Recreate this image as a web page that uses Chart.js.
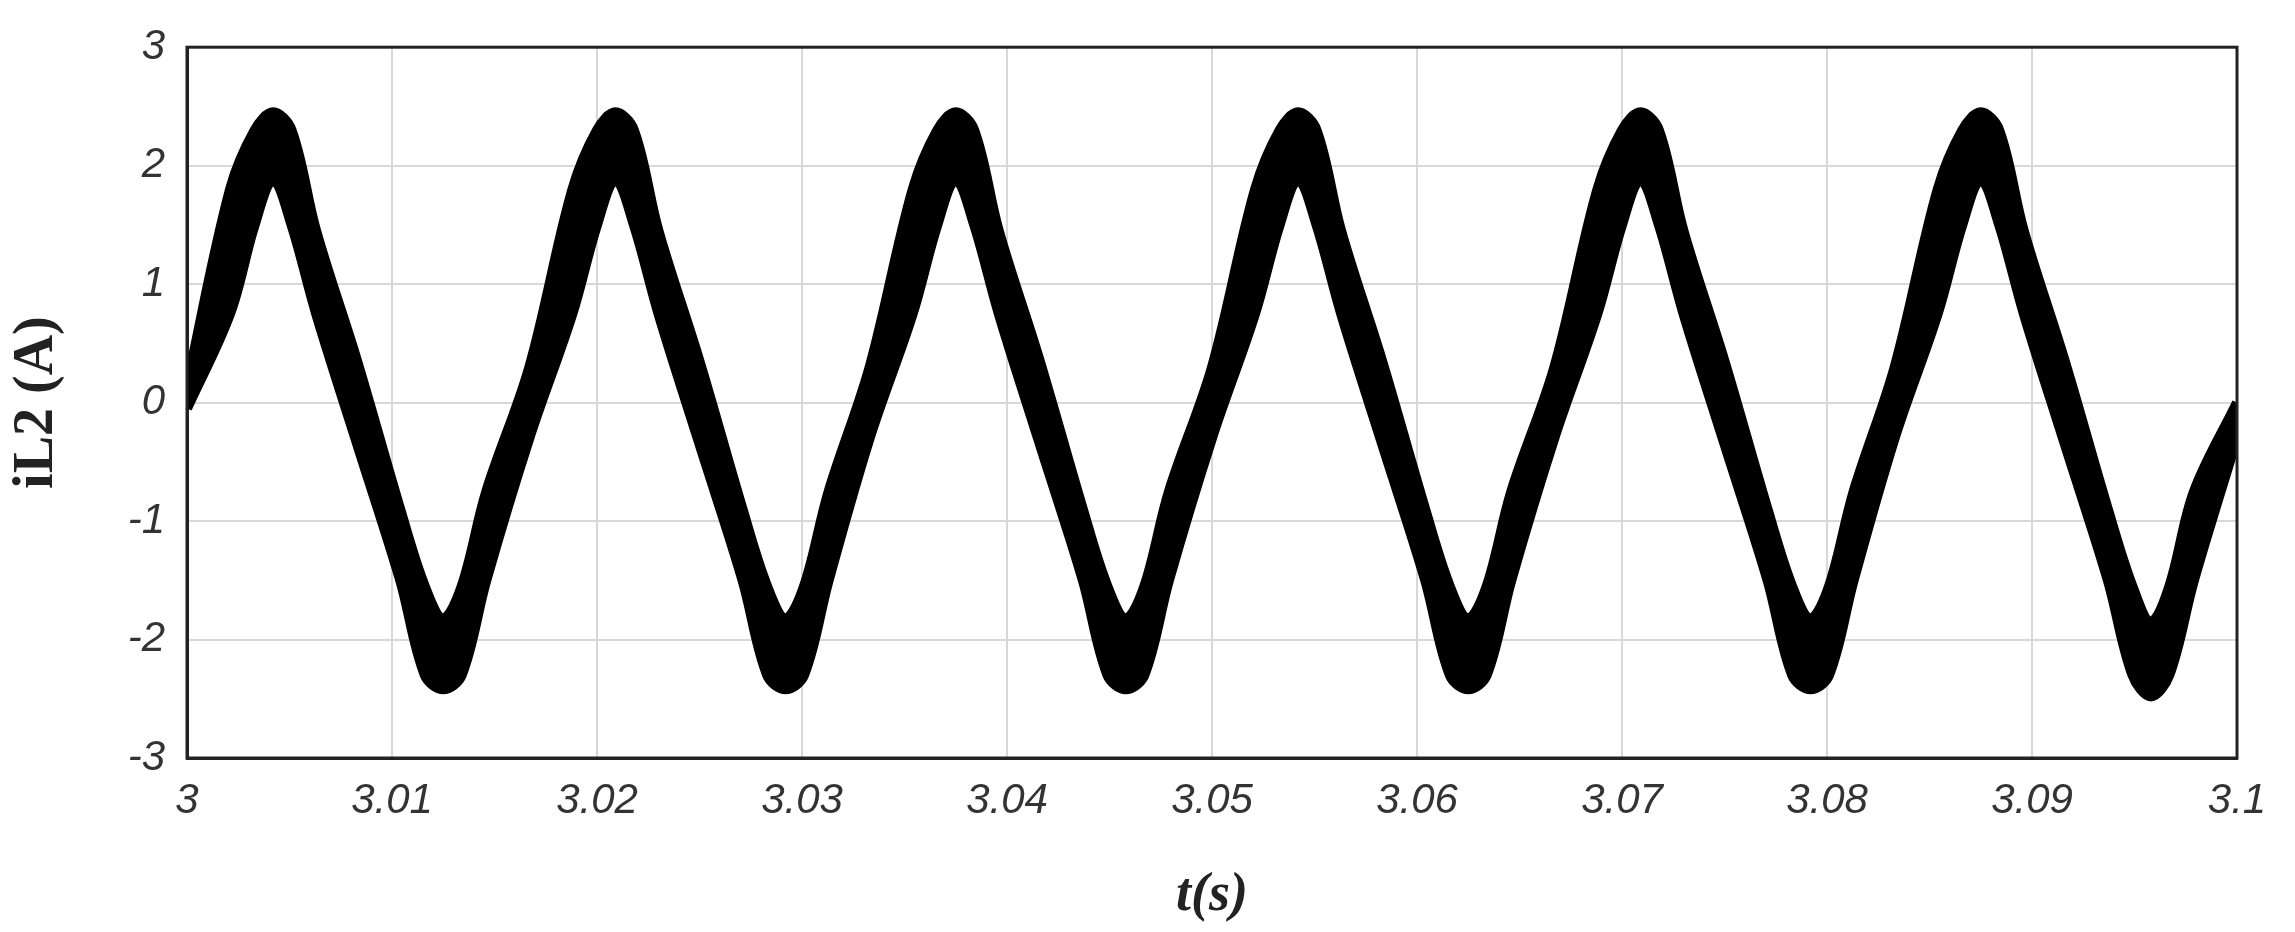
<!DOCTYPE html>
<html>
<head>
<meta charset="utf-8">
<script src="https://cdn.jsdelivr.net/npm/chart.js@4"></script>
<style>
  html, body { margin: 0; padding: 0; background: #fff; }
  #wrap { width: 2295px; height: 932px; }
</style>
</head>
<body>
<div id="wrap"><canvas id="my-chart"></canvas></div>
<script>
// time (s) of each envelope point
const times = [
  3.0, 3.0021, 3.0033, 3.0042, 3.0051, 3.0063, 3.0083, 3.0104, 3.0116, 3.0125, 3.0134, 3.0146,
  3.0167, 3.0188, 3.02, 3.0209, 3.0218, 3.023, 3.025, 3.0271, 3.0283, 3.0292, 3.0301, 3.0313,
  3.0333, 3.0354, 3.0366, 3.0375, 3.0384, 3.0396, 3.0416, 3.0437, 3.0449, 3.0458, 3.0467, 3.0479,
  3.05, 3.0521, 3.0533, 3.0542, 3.0551, 3.0563, 3.0583, 3.0604, 3.0616, 3.0625, 3.0634, 3.0646,
  3.0667, 3.0688, 3.07, 3.0709, 3.0718, 3.073, 3.075, 3.0771, 3.0783, 3.0792, 3.0801, 3.0813,
  3.0833, 3.0854, 3.0866, 3.0875, 3.0884, 3.0896, 3.0916, 3.0937, 3.0949, 3.0958, 3.0967, 3.0979,
  3.1
];
// upper edge of the ripple band (A)
const upperEdge = [
  0.15, 1.8, 2.3, 2.45, 2.3, 1.45, 0.35, -0.9, -1.55, -1.82, -1.55, -0.75,
  0.3, 1.8, 2.3, 2.45, 2.3, 1.45, 0.35, -0.9, -1.55, -1.82, -1.55, -0.75,
  0.3, 1.8, 2.3, 2.45, 2.3, 1.45, 0.35, -0.9, -1.55, -1.82, -1.55, -0.75,
  0.3, 1.8, 2.3, 2.45, 2.3, 1.45, 0.35, -0.9, -1.55, -1.82, -1.55, -0.75,
  0.3, 1.8, 2.3, 2.45, 2.3, 1.45, 0.35, -0.9, -1.55, -1.82, -1.55, -0.75,
  0.3, 1.8, 2.3, 2.45, 2.3, 1.45, 0.35, -0.9, -1.55, -1.85, -1.55, -0.75,
  0.0
];
// lower edge of the ripple band (A)
const lowerEdge = [
  -0.05, 0.75, 1.5, 1.88, 1.5, 0.75, -0.35, -1.5, -2.3, -2.42, -2.3, -1.5,
  -0.3, 0.75, 1.5, 1.88, 1.5, 0.75, -0.35, -1.5, -2.3, -2.42, -2.3, -1.5,
  -0.3, 0.75, 1.5, 1.88, 1.5, 0.75, -0.35, -1.5, -2.3, -2.42, -2.3, -1.5,
  -0.3, 0.75, 1.5, 1.88, 1.5, 0.75, -0.35, -1.5, -2.3, -2.42, -2.3, -1.5,
  -0.3, 0.75, 1.5, 1.88, 1.5, 0.75, -0.35, -1.5, -2.3, -2.42, -2.3, -1.5,
  -0.3, 0.75, 1.5, 1.88, 1.5, 0.75, -0.35, -1.5, -2.3, -2.48, -2.3, -1.5,
  -0.3
];
const xTicks = [3, 3.01, 3.02, 3.03, 3.04, 3.05, 3.06, 3.07, 3.08, 3.09, 3.1];
const yTicks = [-3, -2, -1, 0, 1, 2, 3];

const tickFont = { family: 'Liberation Sans', size: 42, style: 'italic' };

const ctx = document.getElementById('my-chart').getContext('2d');
new Chart(ctx, {
  type: 'line',
  data: {
    datasets: [
      {
        data: times.map((t, i) => ({ x: t, y: upperEdge[i] })),
        borderColor: '#000', borderWidth: 10, pointRadius: 0, tension: 0.35, fill: false
      },
      {
        data: times.map((t, i) => ({ x: t, y: lowerEdge[i] })),
        borderColor: '#000', borderWidth: 10, pointRadius: 0, tension: 0.35,
        fill: '-1', backgroundColor: '#000'
      }
    ]
  },
  options: {
    responsive: true,
    maintainAspectRatio: false,
    animation: false,
    layout: { padding: { top: -8, right: 58, left: 0, bottom: 0 } },
    plugins: { legend: { display: false }, tooltip: { enabled: false } },
    scales: {
      x: {
        type: 'linear', min: 3, max: 3.1,
        afterBuildTicks: ax => { ax.ticks = xTicks.map(v => ({ value: v })); },
        afterFit: ax => { ax.height = 174; },
        ticks: { font: tickFont, color: '#333', padding: 18, maxRotation: 0,
                 callback: v => String(+v.toFixed(2)) },
        grid: { color: '#d8d8d8', lineWidth: 2, drawTicks: false },
        border: { color: '#222', width: 3 },
        title: { display: true, text: 't(s)', color: '#222', padding: { top: 6 },
                 font: { family: 'Liberation Serif', size: 54, weight: 'bold', style: 'italic' } }
      },
      y: {
        min: -3, max: 3,
        afterBuildTicks: ax => { ax.ticks = yTicks.map(v => ({ value: v })); },
        afterFit: ax => { ax.width = 187; },
        ticks: { font: tickFont, color: '#333', padding: 22 },
        grid: { color: '#d8d8d8', lineWidth: 2, drawTicks: false },
        border: { color: '#222', width: 3 },
        title: { display: true, text: 'iL2 (A)', color: '#222', padding: { bottom: 4 },
                 font: { family: 'Liberation Serif', size: 56, weight: 'bold' } }
      }
    }
  },
  plugins: [{
    id: 'frame',
    afterDraw(chart) {
      const a = chart.chartArea, c = chart.ctx;
      c.save();
      c.strokeStyle = '#222'; c.lineWidth = 3;
      c.strokeRect(a.left, a.top, a.right - a.left, a.bottom - a.top);
      c.restore();
    }
  }]
});
</script>
</body>
</html>
